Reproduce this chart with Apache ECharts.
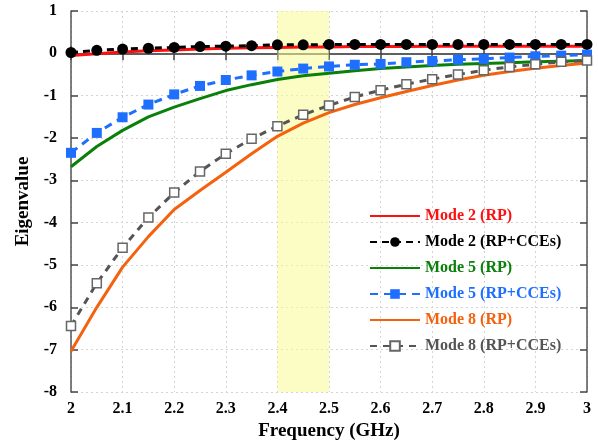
<!DOCTYPE html>
<html><head><meta charset="utf-8">
<script src="https://cdn.jsdelivr.net/npm/echarts@6/dist/echarts.min.js"></script>
<style>html,body{margin:0;padding:0;background:#fff}#c{width:598px;height:444px}</style>
</head><body><div id="c"></div>
<script>
const freq = [2.0,2.05,2.1,2.15,2.2,2.25,2.3,2.35,2.4,2.45,2.5,2.55,2.6,2.65,2.7,2.75,2.8,2.85,2.9,2.95,3.0];
const mode2RP  = [-0.05,-0.01,0.03,0.06,0.08,0.10,0.12,0.13,0.14,0.15,0.15,0.16,0.16,0.16,0.17,0.17,0.17,0.17,0.17,0.17,0.17];
const mode2CCE = [0.02,0.07,0.10,0.12,0.14,0.16,0.17,0.18,0.20,0.20,0.21,0.21,0.21,0.21,0.21,0.21,0.21,0.21,0.21,0.21,0.21];
const mode5RP  = [-2.68,-2.20,-1.82,-1.50,-1.27,-1.07,-0.88,-0.74,-0.62,-0.53,-0.47,-0.41,-0.36,-0.32,-0.29,-0.26,-0.24,-0.22,-0.20,-0.185,-0.17];
const mode5CCE = [-2.35,-1.88,-1.51,-1.21,-0.97,-0.77,-0.63,-0.52,-0.43,-0.36,-0.31,-0.27,-0.25,-0.21,-0.18,-0.15,-0.13,-0.10,-0.07,-0.055,-0.03];
const mode8RP  = [-7.04,-6.00,-5.05,-4.33,-3.69,-3.24,-2.81,-2.37,-1.96,-1.65,-1.40,-1.21,-1.05,-0.90,-0.76,-0.63,-0.52,-0.43,-0.35,-0.29,-0.23];
const mode8CCE = [-6.44,-5.43,-4.59,-3.88,-3.29,-2.79,-2.37,-2.02,-1.72,-1.45,-1.23,-1.03,-0.87,-0.73,-0.61,-0.50,-0.40,-0.32,-0.26,-0.20,-0.17];
const seriesNames = ['Mode 2 (RP)','Mode 2 (RP+CCEs)','Mode 5 (RP)','Mode 5 (RP+CCEs)','Mode 8 (RP)','Mode 8 (RP+CCEs)'];
const bandRange = [2.4, 2.5];
const xTicks = {min:2, max:3, step:0.1};
const yTicks = {min:-8, max:1, step:1};

const colors = ['#ff1010','#000000','#0a800a','#1f6fff','#f4620f','#555555'];
const solid = [true,false,true,false,true,false];
const pairs = a => freq.map((f,i)=>[f,a[i]]);
const font = '"Liberation Serif","Times New Roman",serif';

const chart = echarts.init(document.getElementById('c'));
const axisLine = {show:true, lineStyle:{color:'#555', width:1.5}};
const tick = {show:true, inside:true, length:7, lineStyle:{color:'#444', width:1.5}};
chart.setOption({
  animation:false,
  grid:{left:71, right:11, top:11, bottom:52, containLabel:false, outerBoundsMode:'none'},
  legend:{
    orient:'vertical', left:364, top:203, itemWidth:50, itemHeight:12, itemGap:10,
    textStyle:{fontFamily:font, fontWeight:'bold', fontSize:16, lineHeight:16},
    data: seriesNames.map((n,i)=>{
      const d = {name:n, textStyle:{color:colors[i]}};
      if (solid[i]) d.itemStyle = {color:'rgba(0,0,0,0)', borderColor:'rgba(0,0,0,0)', borderWidth:0};
      return d;
    })
  },
  xAxis:[{
    type:'value', min:xTicks.min, max:xTicks.max, interval:xTicks.step,
    name:'Frequency (GHz)', nameLocation:'middle', nameGap:30,
    nameTextStyle:{fontFamily:font, fontWeight:'bold', fontSize:19, color:'#000'},
    axisLine, axisTick:tick,
    axisLabel:{fontFamily:font, fontWeight:'bold', fontSize:16, color:'#000', margin:9,
      formatter:v=>String(Math.round(v*10)/10)},
    splitLine:{show:true, lineStyle:{color:'#d4d4d4', type:[2,3], width:1}}
  },{
    type:'value', position:'top', min:xTicks.min, max:xTicks.max, interval:xTicks.step,
    axisLine, axisTick:tick, axisLabel:{show:false}, splitLine:{show:false}
  }],
  yAxis:[{
    type:'value', min:yTicks.min, max:yTicks.max, interval:yTicks.step,
    name:'Eigenvalue', nameLocation:'middle', nameGap:35, nameRotate:90,
    nameTextStyle:{fontFamily:font, fontWeight:'bold', fontSize:19, color:'#000'},
    axisLine, axisTick:tick,
    axisLabel:{fontFamily:font, fontWeight:'bold', fontSize:16, color:'#000', margin:14},
    splitLine:{show:true, lineStyle:{color:'#d4d4d4', type:[2,3], width:1}}
  },{
    type:'value', position:'right', min:yTicks.min, max:yTicks.max, interval:yTicks.step,
    axisLine, axisTick:tick, axisLabel:{show:false}, splitLine:{show:false}
  }],
  series:[
    {name:seriesNames[0], type:'line', data:pairs(mode2RP), symbol:'none', z:3,
      lineStyle:{color:colors[0], width:3}, itemStyle:{color:colors[0]},
      markArea:{silent:true, itemStyle:{color:'rgba(250,250,150,0.55)'},
        data:[[{xAxis:bandRange[0]},{xAxis:bandRange[1]}]]}},
    {name:seriesNames[1], type:'line', data:pairs(mode2CCE), symbol:'circle', symbolSize:11, z:4,
      lineStyle:{color:colors[1], width:3, type:[7,5]}, itemStyle:{color:colors[1]}},
    {name:seriesNames[2], type:'line', data:pairs(mode5RP), symbol:'none', z:3,
      lineStyle:{color:colors[2], width:3}, itemStyle:{color:colors[2]}},
    {name:seriesNames[3], type:'line', data:pairs(mode5CCE), symbol:'rect', symbolSize:10, z:4,
      lineStyle:{color:colors[3], width:3, type:[8,6]}, itemStyle:{color:colors[3]}},
    {name:seriesNames[4], type:'line', data:pairs(mode8RP), symbol:'none', z:3,
      lineStyle:{color:colors[4], width:3}, itemStyle:{color:colors[4]}},
    {name:seriesNames[5], type:'line', data:pairs(mode8CCE), symbol:'rect', symbolSize:9, z:4,
      lineStyle:{color:colors[5], width:3, type:[7,6]},
      itemStyle:{color:'#ffffff', borderColor:'#666', borderWidth:1.5}}
  ]
});
</script></body></html>
